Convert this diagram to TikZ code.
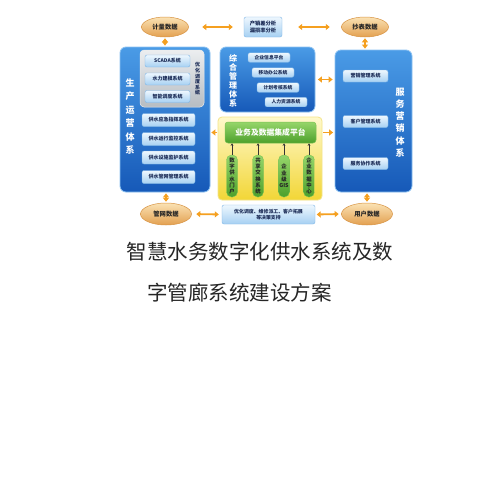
\documentclass[tikz,border=0pt]{standalone}
\usepackage{fontspec}
\setmainfont{Noto Sans CJK SC}
\usetikzlibrary{arrows.meta,shapes.geometric}
\definecolor{arrowor}{HTML}{F5A020}
\definecolor{bigtop}{HTML}{4A9BE6}
\definecolor{bigbot}{HTML}{1659B8}
\definecolor{bigline}{HTML}{8CC2F2}
\definecolor{intop}{HTML}{EEF7FE}
\definecolor{inbot}{HTML}{A6D0F2}
\definecolor{inline}{HTML}{7FB6E6}
\definecolor{intext}{HTML}{1A2A55}
\definecolor{eltop}{HTML}{FAE2B4}
\definecolor{elbot}{HTML}{E3A050}
\definecolor{elline}{HTML}{D89444}
\definecolor{yltop}{HTML}{FFF9CC}
\definecolor{ylbot}{HTML}{F2D636}
\definecolor{ylline}{HTML}{F4E48A}
\definecolor{grtop}{HTML}{96D66A}
\definecolor{grbot}{HTML}{4DA02C}
\definecolor{grline}{HTML}{7CC254}
\definecolor{gytop}{HTML}{ECEEF0}
\definecolor{gybot}{HTML}{B6BCC2}
\tikzset{
  bigbox/.style={draw=bigline,line width=0.8pt,rounded corners=6pt,top color=bigtop,bottom color=bigbot,inner sep=0pt},
  inbox/.style={draw=inline,line width=0.4pt,rounded corners=2pt,top color=intop,bottom color=inbot,inner sep=0pt,text=intext,font=\fontsize{5}{6}\selectfont\bfseries,align=center},
  databox/.style={ellipse,draw=elline,line width=0.5pt,top color=eltop,bottom color=elbot,inner sep=0pt,text=black!85,font=\fontsize{6.3}{7}\selectfont\bfseries},
  vtext/.style={text=white,font=\fontsize{9}{13.4}\selectfont\bfseries,align=center,inner sep=0pt},
  pill/.style={draw=grline,line width=0.4pt,rounded corners=5pt,top color=grtop,bottom color=grbot,inner sep=0pt,minimum width=11pt,minimum height=42pt,align=center,text=black!85,font=\fontsize{5.4}{6.3}\selectfont\bfseries},
  oarr/.style={draw=arrowor,line width=1.8pt,{Triangle[width=6pt,length=4pt]}-{Triangle[width=6pt,length=4pt]}},
  oarrr/.style={draw=arrowor,line width=1.8pt,-{Triangle[width=6pt,length=4pt]}},
  karr/.style={draw=black!80,line width=0.6pt,-{Stealth[length=2.5pt,width=2.5pt]}},
  titletext/.style={text=black!85,font=\fontsize{20.5}{24}\selectfont,inner sep=0pt}
}
\begin{document}
\begin{tikzpicture}[x=1pt,y=-1pt]
\useasboundingbox[fill=white] (0,0) rectangle (480,480);
% top row
\node[databox,minimum width=47pt,minimum height=20pt] (jl) at (165,27) {计量数据};
\node[inbox,minimum width=38pt,minimum height=20pt,font=\fontsize{5.3}{6.3}\selectfont\bfseries] (cx) at (263,27) {产销差分析\\漏损率分析};
\node[databox,minimum width=47pt,minimum height=20pt] (cb) at (365,27) {抄表数据};
% left big box
\node[bigbox,minimum width=90pt,minimum height=145pt] (sc) at (165,119.5) {};
\node[draw=white!85!gray,line width=0.5pt,rounded corners=4pt,top color=gytop,bottom color=gybot,minimum width=64pt,minimum height=57pt,inner sep=0pt] (yd) at (172,78.5) {};
\node[inbox,minimum width=45pt,minimum height=12pt] (s1) at (167.5,61) {SCADA系统};
\node[inbox,minimum width=45pt,minimum height=12pt] (s2) at (167.5,79) {水力建模系统};
\node[inbox,minimum width=45pt,minimum height=12pt] (s3) at (167.5,96.5) {智能调度系统};
\node[text=intext,font=\fontsize{5}{5.6}\selectfont\bfseries,align=center,inner sep=0pt] (ydt) at (197.5,79) {优\\化\\调\\度\\系\\统};
\node[inbox,minimum width=53pt,minimum height=13pt] (s4) at (168.5,120) {供水应急指挥系统};
\node[inbox,minimum width=53pt,minimum height=13pt] (s5) at (168.5,139) {供水运行监控系统};
\node[inbox,minimum width=53pt,minimum height=13pt] (s6) at (168.5,157.5) {供水设施监护系统};
\node[inbox,minimum width=53pt,minimum height=13pt] (s7) at (168.5,177) {供水管网管理系统};
\node[vtext] (sct) at (130,116.5) {生\\产\\运\\营\\体\\系};
% middle top box
\node[bigbox,minimum width=95pt,minimum height=65pt] (zh) at (267.5,79.5) {};
\node[vtext,font=\fontsize{8}{9}\selectfont\bfseries] (zht) at (233,80.5) {综\\合\\管\\理\\体\\系};
\node[inbox,minimum width=42pt,minimum height=9.5pt,font=\fontsize{4.8}{5.5}\selectfont\bfseries] (z1) at (269,57.5) {企业信息平台};
\node[inbox,minimum width=42pt,minimum height=9.5pt,font=\fontsize{4.8}{5.5}\selectfont\bfseries] (z2) at (273,72.5) {移动办公系统};
\node[inbox,minimum width=42pt,minimum height=9.5pt,font=\fontsize{4.8}{5.5}\selectfont\bfseries] (z3) at (278,87.5) {计划考核系统};
\node[inbox,minimum width=42pt,minimum height=9.5pt,font=\fontsize{4.8}{5.5}\selectfont\bfseries] (z4) at (286,102) {人力资源系统};
% right big box
\node[bigbox,minimum width=77pt,minimum height=142pt] (fw) at (373.5,121) {};
\node[inbox,minimum width=45pt,minimum height=12pt] (f1) at (365.5,76) {营销管理系统};
\node[inbox,minimum width=45pt,minimum height=12pt] (f2) at (365.5,121.5) {客户管理系统};
\node[inbox,minimum width=45pt,minimum height=12pt] (f3) at (365.5,163.5) {服务协作系统};
\node[vtext,font=\fontsize{9}{12.2}\selectfont\bfseries] (fwt) at (400,122.5) {服\\务\\营\\销\\体\\系};
% yellow platform
\node[draw=ylline,line width=0.8pt,rounded corners=4pt,top color=yltop,bottom color=ylbot,minimum width=104pt,minimum height=83pt,inner sep=0pt] (yl) at (270,158.5) {};
\node[draw=grline,line width=0.5pt,rounded corners=3pt,top color=grtop,bottom color=grbot,minimum width=91pt,minimum height=21pt,inner sep=0pt,text=white,font=\fontsize{7.8}{9}\selectfont\bfseries] (gh) at (270.5,132.5) {业务及数据集成平台};
\node[pill] (p1) at (232,176) {数\\字\\供\\水\\门\\户};
\node[pill] (p2) at (258,176) {共\\享\\交\\换\\系\\统};
\node[pill] (p3) at (284,176) {企\\业\\级\\GIS};
\node[pill] (p4) at (309,176) {企\\业\\数\\据\\中\\心};
% bottom row
\node[databox,minimum width=51pt,minimum height=22pt] (gw) at (166,214) {管网数据};
\node[inbox,minimum width=93pt,minimum height=19pt,font=\fontsize{4.9}{6}\selectfont\bfseries] (jc) at (268.5,214.5) {优化调度、维修派工、客户拓展\\等决策支持};
\node[databox,minimum width=51pt,minimum height=22pt] (yh) at (367,214) {用户数据};
% title
\node[titletext] (t1) at (260,252) {智慧水务数字化供水系统及数};
\node[titletext] (t2) at (239.5,292.5) {字管廊系统建设方案};
% arrows
\draw[oarr,shorten <=13.5pt,shorten >=11pt] (jl.east) -- (cx.west);
\draw[oarr,shorten <=16pt,shorten >=11.5pt] (cx.east) -- (cb.west);
\draw[oarr,shorten <=1pt,shorten >=1pt] (jl.south) -- (jl.south |- sc.north);
\draw[oarr,shorten <=1pt,shorten >=1pt] (cb.south) -- (cb.south |- fw.north);
\draw[oarr,shorten <=1pt,shorten >=1pt] (gw.north |- sc.south) -- (gw.north);
\draw[oarr,shorten <=1pt,shorten >=1pt] (yh.north |- fw.south) -- (yh.north);
\draw[oarr,shorten <=4.5pt,shorten >=3pt] (gw.east) -- (jc.west);
\draw[oarr,shorten <=1.5pt,shorten >=2.5pt] (jc.east) -- (yh.west);
\draw[oarrr,shorten <=1pt,shorten >=1pt] (gh.west -| yl.west) -- (gh.west -| sc.east);
\draw[oarrr,shorten <=1pt,shorten >=1.5pt] (gh.east -| yl.east) -- (gh.east -| fw.west);
\draw[oarr,shorten <=2.5pt,shorten >=2pt] (zh.east) -- (zh.east -| fw.west);
\foreach \p in {p1,p2,p3,p4}{
  \draw[karr] (\p.north) -- (\p.north |- gh.south);
}
\end{tikzpicture}
\end{document}
